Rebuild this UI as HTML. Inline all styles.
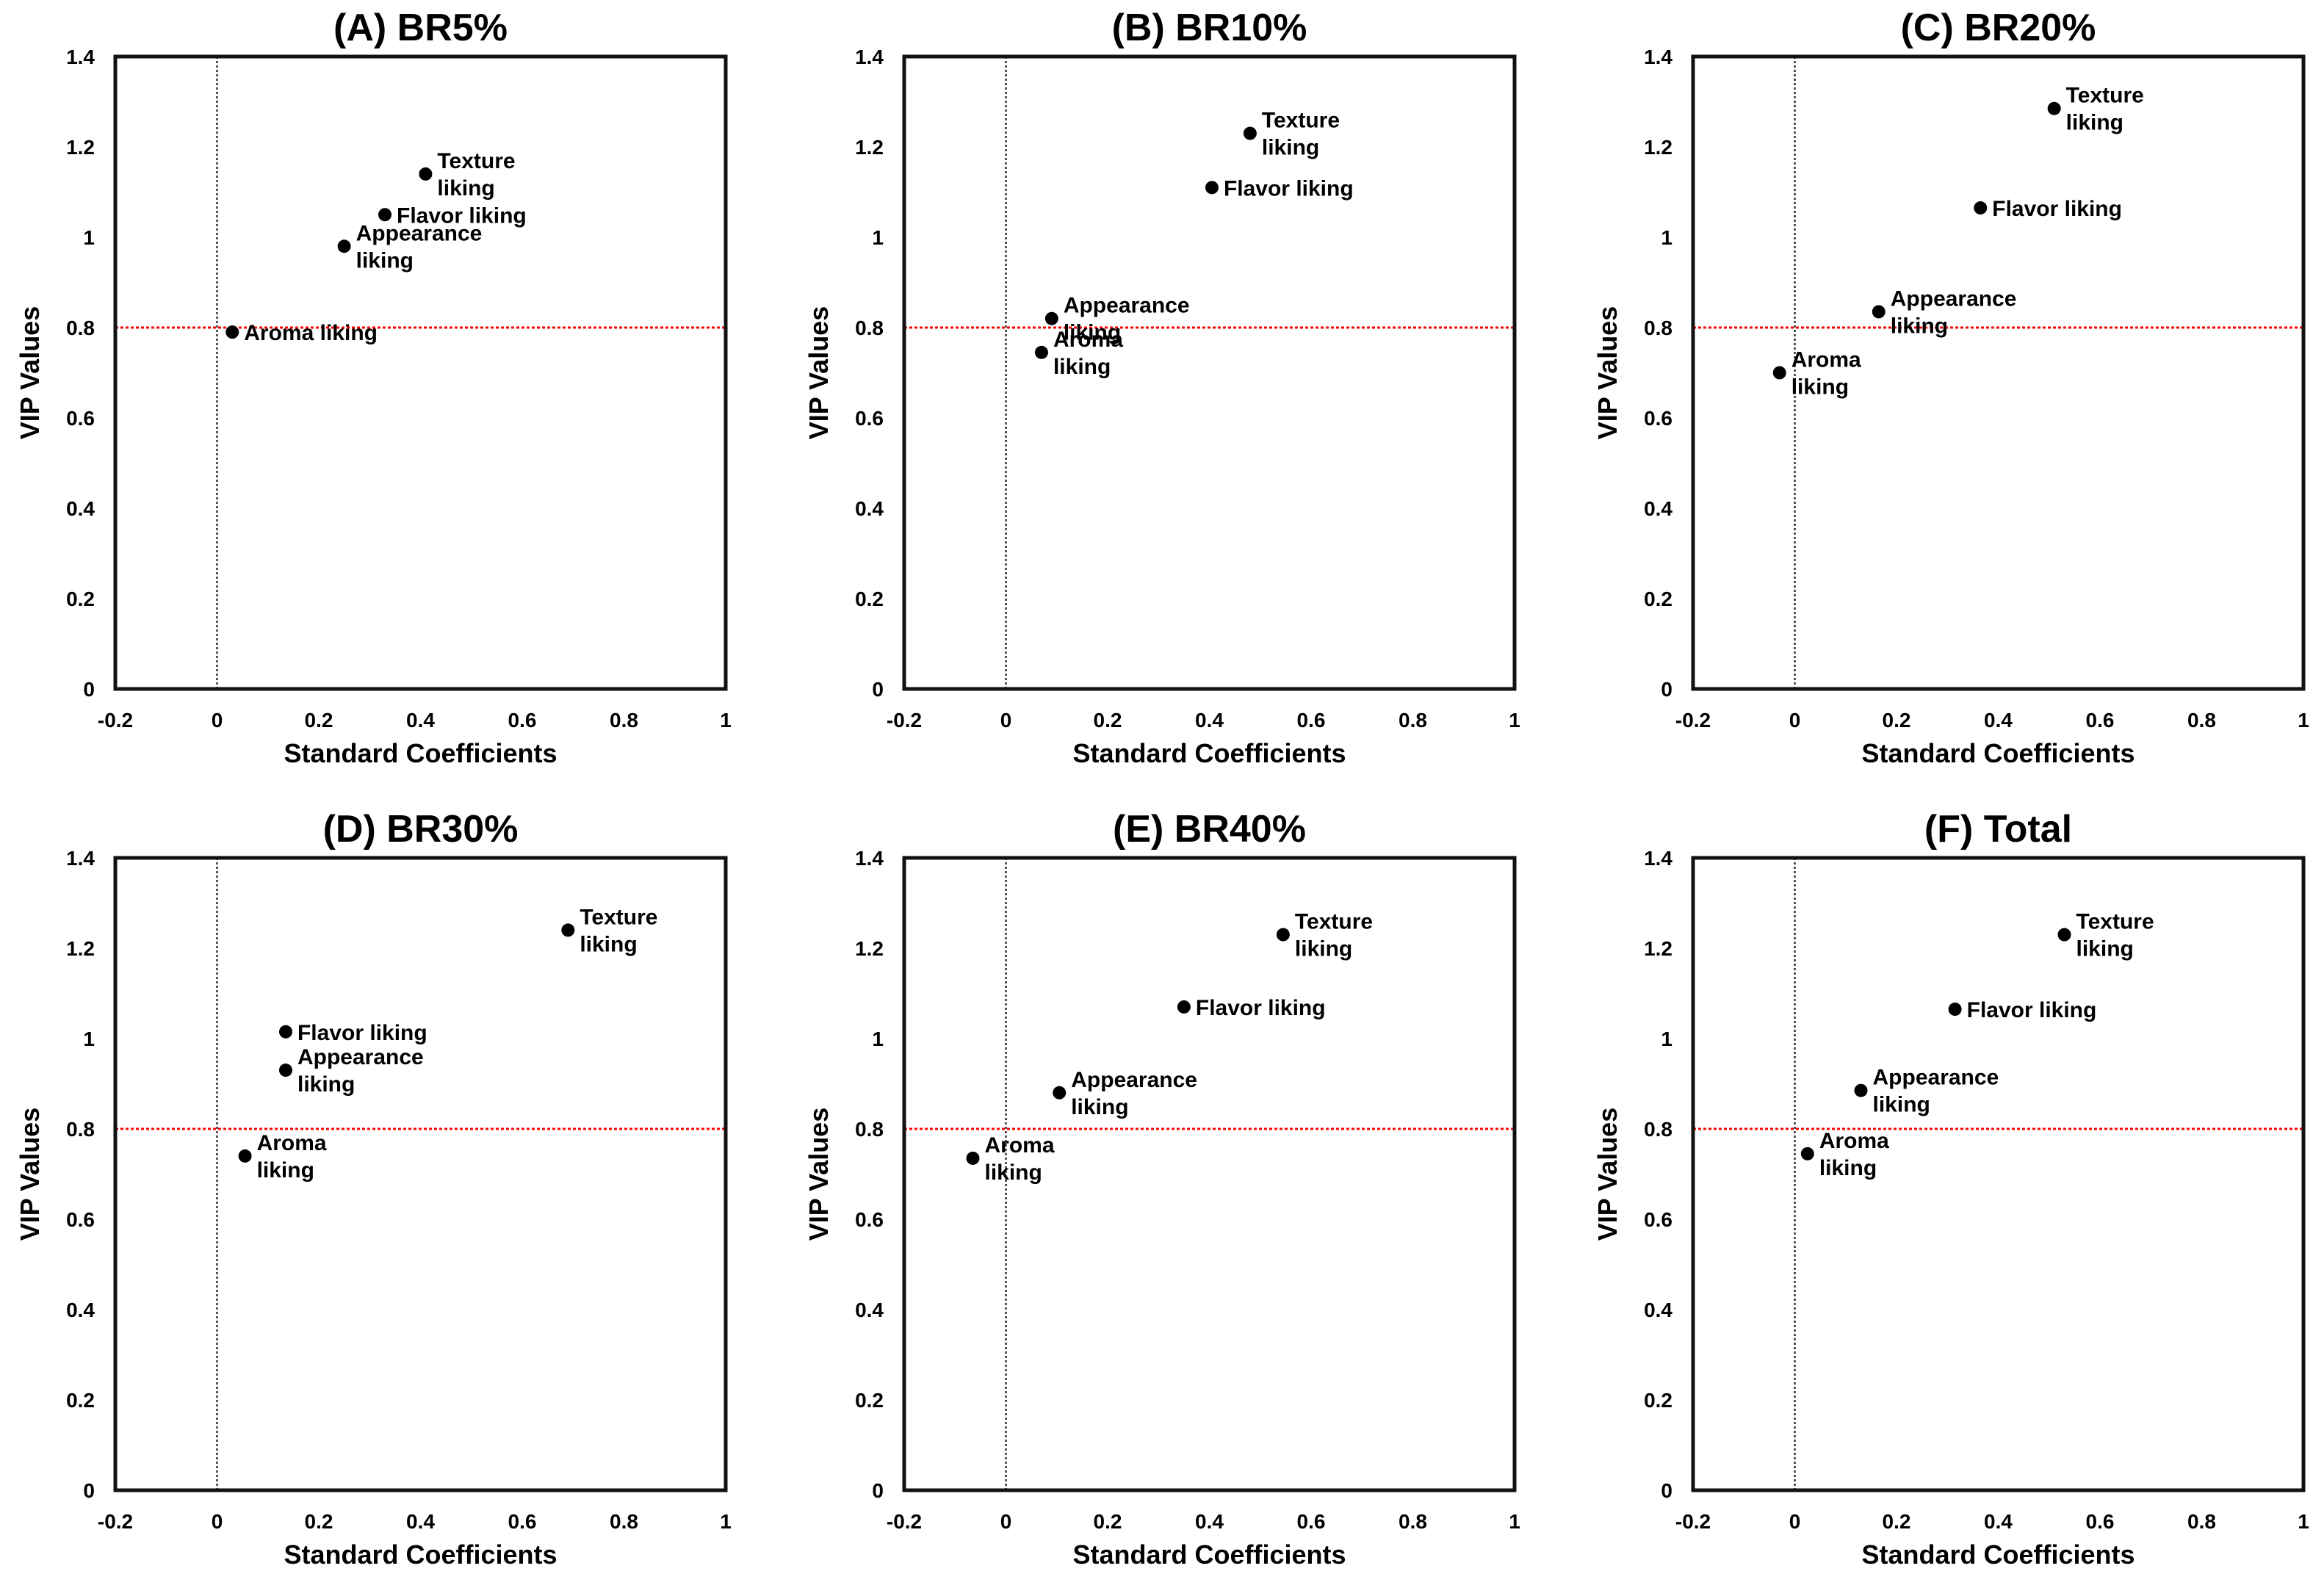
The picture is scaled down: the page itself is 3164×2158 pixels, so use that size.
<!DOCTYPE html>
<html><head><meta charset="utf-8"><style>
html,body{margin:0;padding:0;background:#fff;}
svg{display:block;font-family:"Liberation Sans",Arial,sans-serif;font-weight:bold;}
</style></head>
<body>
<svg id="chart" width="3164" height="2158" viewBox="0 0 3164 2158" xmlns="http://www.w3.org/2000/svg"></svg>
<script>
const panelTitles = ["(A) BR5%", "(B) BR10%", "(C) BR20%", "(D) BR30%", "(E) BR40%", "(F) Total"];
const attributes = ["Texture liking", "Flavor liking", "Appearance liking", "Aroma liking"];
const xA = [0.41, 0.33, 0.25, 0.03];
const yA = [1.14, 1.05, 0.98, 0.79];
const xB = [0.48, 0.405, 0.09, 0.07];
const yB = [1.23, 1.11, 0.82, 0.745];
const xC = [0.51, 0.365, 0.165, -0.03];
const yC = [1.285, 1.065, 0.835, 0.70];
const xD = [0.69, 0.135, 0.135, 0.055];
const yD = [1.24, 1.015, 0.93, 0.74];
const xE = [0.545, 0.35, 0.105, -0.065];
const yE = [1.23, 1.07, 0.88, 0.735];
const xF = [0.53, 0.315, 0.13, 0.025];
const yF = [1.23, 1.065, 0.885, 0.745];
const xTicks = [-0.2, 0, 0.2, 0.4, 0.6, 0.8, 1];
const xTickLabels = ["-0.2", "0", "0.2", "0.4", "0.6", "0.8", "1"];
const yTicks = [0, 0.2, 0.4, 0.6, 0.8, 1, 1.2, 1.4];
const yTickLabels = ["0", "0.2", "0.4", "0.6", "0.8", "1", "1.2", "1.4"];
const vipThreshold = 0.8;
// label layout per panel: 1 = single line, 2 = two lines
const lineModes = [
  [2, 1, 2, 1],
  [2, 1, 2, 2],
  [2, 1, 2, 2],
  [2, 1, 2, 2],
  [2, 1, 2, 2],
  [2, 1, 2, 2]
];

const allX = [xA, xB, xC, xD, xE, xF];
const allY = [yA, yB, yC, yD, yE, yF];
const NS = "http://www.w3.org/2000/svg";
const svg = document.getElementById("chart");
const lefts = [157, 1231, 2305];
const tops = [77, 1168];
const PW = 831, PH = 861;
const X0 = -0.2, X1 = 1, Y0 = 0, Y1 = 1.4;

function mk(tag, attrs, parent) {
  const e = document.createElementNS(NS, tag);
  for (const k in attrs) e.setAttribute(k, attrs[k]);
  (parent || svg).appendChild(e);
  return e;
}

for (let p = 0; p < 6; p++) {
  const L = lefts[p % 3], T = tops[Math.floor(p / 3)];
  const sx = v => L + (v - X0) / (X1 - X0) * PW;
  const sy = v => T + PH - (v - Y0) / (Y1 - Y0) * PH;
  const g = mk("g", {});
  
  

  const title = mk("text", {x: L + PW / 2, y: T - 22, "text-anchor": "middle", "font-size": 52}, g);
  title.textContent = panelTitles[p];
  
  

  // reference lines
  const vl = mk("line", {x1: sx(0), x2: sx(0), y1: T, y2: T + PH, stroke: "#333", "stroke-width": 2.5, "stroke-dasharray": "3 3"}, g);
  
  
  const hl = mk("line", {x1: L, x2: L + PW, y1: sy(vipThreshold), y2: sy(vipThreshold), stroke: "#f00", "stroke-width": 3, "stroke-dasharray": "4 3"}, g);
  
  

  // frame
  const fr = mk("rect", {x: L, y: T, width: PW, height: PH, fill: "none", stroke: "#111", "stroke-width": 5}, g);
  
  

  xTicks.forEach((v, i) => {
    const t = mk("text", {x: sx(v), y: T + PH + 52, "text-anchor": "middle", "font-size": 28}, g);
    t.textContent = xTickLabels[i];
    
    
  });
  yTicks.forEach((v, i) => {
    const t = mk("text", {x: L - 28, y: sy(v) + 10, "text-anchor": "end", "font-size": 28}, g);
    t.textContent = yTickLabels[i];
    
    
  });
  const xt = mk("text", {x: L + PW / 2, y: T + PH + 100, "text-anchor": "middle", "font-size": 36}, g);
  xt.textContent = "Standard Coefficients";
  
  
  const cy = T + PH / 2;
  const yt = mk("text", {x: L - 104, y: cy, "text-anchor": "middle", "font-size": 36, transform: "rotate(-90 " + (L - 104) + " " + cy + ")"}, g);
  yt.textContent = "VIP Values";
  
  

  const xs = allX[p], ys = allY[p];
  for (let i = 0; i < xs.length; i++) {
    const px = sx(xs[i]), py = sy(ys[i]);
    const c = mk("circle", {cx: px, cy: py, r: 9, fill: "#000"}, g);
    
    
    const words = attributes[i].split(" ");
    if (lineModes[p][i] === 1) {
      const t = mk("text", {x: px + 16, y: py + 11, "font-size": 30}, g);
      t.textContent = attributes[i];
      
      
    } else {
      const t = mk("text", {x: px + 16, y: py - 8, "font-size": 30}, g);
      t.textContent = words[0];
      
      
      const t2 = mk("text", {x: px + 16, y: py + 29, "font-size": 30}, g);
      t2.textContent = words[1];
      
      
    }
  }
}
</script>
</body></html>
